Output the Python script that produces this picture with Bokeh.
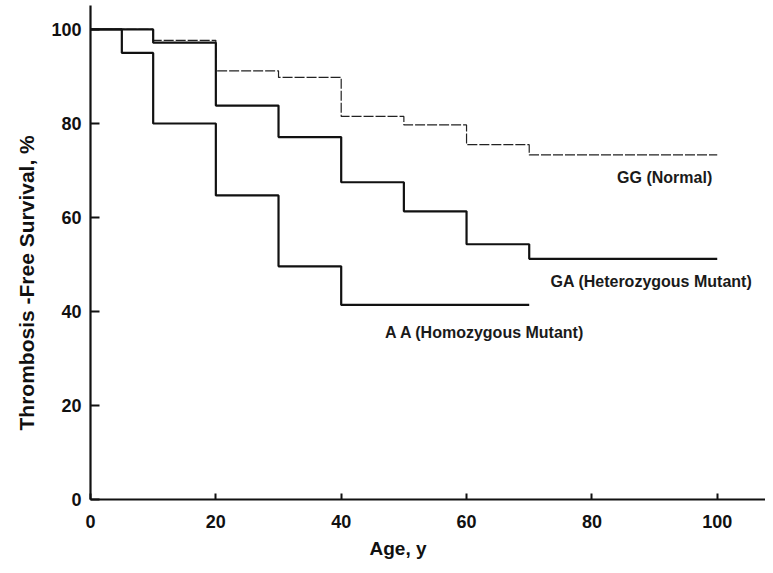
from bokeh.plotting import figure
from bokeh.models import Range1d, Label, FixedTicker, Title
from bokeh.embed import file_html
from bokeh.resources import INLINE

# Kaplan-Meier step data (age in years, thrombosis-free survival %)
gg_age = [0, 10, 20, 30, 40, 50, 60, 70, 100]
gg_surv = [100, 97.7, 91.2, 89.8, 81.5, 79.7, 75.5, 73.3, 73.3]

ga_age = [0, 10, 20, 30, 40, 50, 60, 70, 100]
ga_surv = [100, 97.2, 83.8, 77.1, 67.5, 61.3, 54.3, 51.2, 51.2]

aa_age = [0, 5, 10, 20, 30, 40, 70]
aa_surv = [100, 95, 80, 64.7, 49.6, 41.4, 41.4]

x_ticks = [0, 20, 40, 60, 80, 100]
y_ticks = [0, 20, 40, 60, 80, 100]

series_labels = ["GG (Normal)", "GA (Heterozygous Mutant)", "A A (Homozygous Mutant)"]

FONT = "Liberation Sans"

p = figure(width=765, height=565, output_backend="svg", toolbar_location=None,
           x_range=Range1d(0, 107.7), y_range=Range1d(0, 105.1),
           min_border_left=90, min_border_right=0, min_border_top=5, min_border_bottom=66)
p.outline_line_color = None
p.grid.visible = False
p.background_fill_color = "white"
p.border_fill_color = "white"

p.step(gg_age, gg_surv, mode="after", line_color="#222222", line_width=1.2, line_dash="10 2")
p.step(ga_age, ga_surv, mode="after", line_color="#111111", line_width=2.2)
p.step(aa_age, aa_surv, mode="after", line_color="#111111", line_width=2.2)

for ax in (p.xaxis, p.yaxis):
    ax.axis_line_width = 2.2
    ax.axis_line_color = "#111111"
    ax.major_tick_line_color = "#111111"
    ax.major_tick_line_width = 2
    ax.minor_tick_line_color = None
    ax.major_label_text_font = FONT
    ax.major_label_text_font_style = "bold"
    ax.major_label_text_font_size = "18px"
    ax.major_label_text_color = "#111111"

p.xaxis.ticker = FixedTicker(ticks=x_ticks)
p.yaxis.ticker = FixedTicker(ticks=y_ticks)
p.xaxis.major_tick_in = 6
p.xaxis.major_tick_out = 0
p.yaxis.major_tick_in = 9
p.yaxis.major_tick_out = 0
p.xaxis.major_label_standoff = 15
p.yaxis.major_label_standoff = 9

# axis titles
p.add_layout(Title(text="Thrombosis -Free Survival, %", align="left", offset=69,
                   text_font=FONT, text_font_style="bold", text_font_size="21px",
                   text_color="#111111", standoff=21), "left")
p.add_layout(Title(text="Age, y", align="left", offset=279,
                   text_font=FONT, text_font_style="bold", text_font_size="19px",
                   text_color="#111111", standoff=10), "below")

# curve labels
p.add_layout(Label(x=99.2, y=68.6, text=series_labels[0], text_align="right", text_baseline="middle",
                   text_font=FONT, text_font_style="bold", text_font_size="16px",
                   text_color="#1a1a1a"))
p.add_layout(Label(x=73.4, y=46.4, text=series_labels[1], text_align="left", text_baseline="middle",
                   text_font=FONT, text_font_style="bold", text_font_size="16px",
                   text_color="#1a1a1a"))
p.add_layout(Label(x=47.0, y=35.6, text=series_labels[2], text_align="left", text_baseline="middle",
                   text_font=FONT, text_font_style="bold", text_font_size="16px",
                   text_color="#1a1a1a"))

open("out.html", "w").write(file_html(p, INLINE))
